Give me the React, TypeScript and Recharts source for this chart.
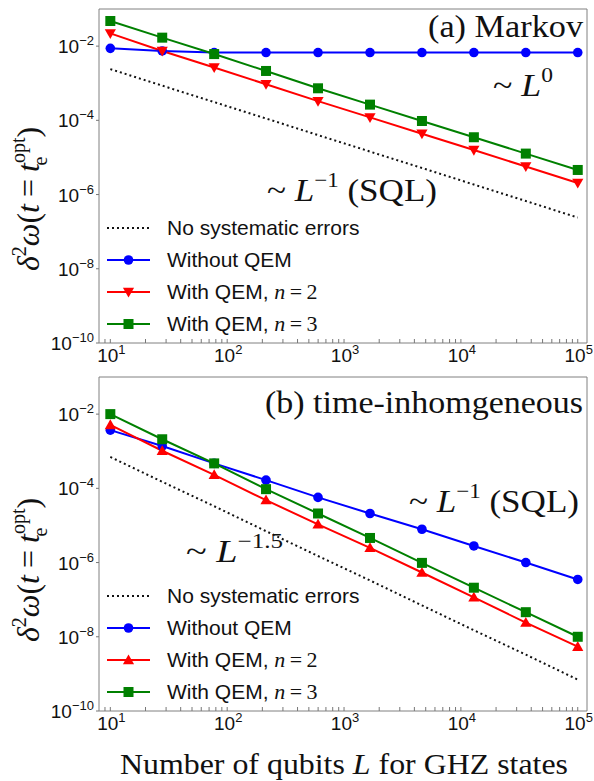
import React from 'react';
import { LineChart, Line, XAxis, YAxis, ReferenceArea } from 'recharts';

// number of qubits L (x positions of the markers)
const qubits = [10, 27.8, 77.4, 215, 599, 1668, 4642, 12915, 35938, 100000];

// (a) Markov
const markovIdeal = [2.4e-3, 8.6e-4, 3.1e-4, 1.12e-4, 4.0e-5, 1.44e-5, 5.2e-6, 1.86e-6, 6.7e-7, 2.4e-7];
const markovNoQem = [8.7e-3, 7.4e-3, 6.7e-3, 6.7e-3, 6.7e-3, 6.7e-3, 6.7e-3, 6.7e-3, 6.7e-3, 6.7e-3];
const markovQem2 = [2.2e-2, 7.4e-3, 2.65e-3, 9.4e-4, 3.3e-4, 1.2e-4, 4.35e-5, 1.58e-5, 5.7e-6, 2.05e-6];
const markovQem3 = [4.75e-2, 1.69e-2, 6.1e-3, 2.14e-3, 7.3e-4, 2.65e-4, 9.6e-5, 3.5e-5, 1.27e-5, 4.6e-6];

// (b) time-inhomogeneous
const inhomIdeal = [7.0e-4, 1.5e-4, 3.3e-5, 7.0e-6, 1.5e-6, 3.3e-7, 7.0e-8, 1.5e-8, 3.3e-9, 7.0e-10];
const inhomNoQem = [3.7e-3, 1.38e-3, 4.7e-4, 1.66e-4, 5.7e-5, 2.1e-5, 7.9e-6, 2.8e-6, 1.0e-6, 3.5e-7];
const inhomQem2 = [5.1e-3, 1.03e-3, 2.3e-4, 4.8e-5, 1.07e-5, 2.5e-6, 5.4e-7, 1.15e-7, 2.4e-8, 5.4e-9];
const inhomQem3 = [1.0e-2, 2.1e-3, 4.7e-4, 9.5e-5, 2.1e-5, 4.6e-6, 9.8e-7, 2.1e-7, 4.6e-8, 1.0e-8];

const xMajorTicks = [10, 100, 1000, 10000, 100000];
const xMinorTicks = [10, 100, 1000, 10000].flatMap((d) => [2, 3, 4, 5, 6, 7, 8, 9].map((m) => m * d)).concat([9]);
const yMajorTicks = [1e-10, 1e-8, 1e-6, 1e-4, 1e-2];

const BLUE = '#0000ff';
const RED = '#ff0000';
const GREEN = '#008000';
const SANS = "'Liberation Sans', Arial, sans-serif";
const SERIF = "'Liberation Serif', 'Times New Roman', serif";

const buildRows = (ideal: number[], noQem: number[], qem2: number[], qem3: number[]) =>
  qubits.map((L, i) => ({ L, ideal: ideal[i], noQem: noQem[i], qem2: qem2[i], qem3: qem3[i] }));

const markovData = buildRows(markovIdeal, markovNoQem, markovQem2, markovQem3);
const inhomData = buildRows(inhomIdeal, inhomNoQem, inhomQem2, inhomQem3);

const exp10 = (v: number) => Math.round(Math.log10(v));

const XTick = ({ x, y, payload }: any) => {
  const v = payload.value;
  if (!xMajorTicks.includes(v)) return null;
  return (
    <text x={x + 1} y={y + 21} textAnchor="middle" fontFamily={SANS} fontSize={19} fill="#111">
      <tspan>10</tspan>
      <tspan fontSize={13} dy={-8}>{exp10(v)}</tspan>
    </text>
  );
};

const YTick = ({ x, y, payload }: any) => (
  <text x={x} y={y + 7} textAnchor="end" fontFamily={SANS} fontSize={19} fill="#111">
    <tspan>10</tspan>
    <tspan fontSize={13} dy={-8}>{'\u2212' + Math.abs(exp10(payload.value))}</tspan>
  </text>
);

const circle = (c: string) => (p: any) =>
  p.cx == null ? <g key={p.key} /> : <circle key={p.key} cx={p.cx} cy={p.cy} r={4.8} fill={c} />;
const square = (c: string) => (p: any) =>
  p.cx == null ? <g key={p.key} /> : <rect key={p.key} x={p.cx - 5} y={p.cy - 5} width={10} height={10} fill={c} />;
const triangle = (c: string, up: boolean) => (p: any) => {
  if (p.cx == null) return <g key={p.key} />;
  const s = 5.6;
  const pts = up
    ? `${p.cx},${p.cy - s} ${p.cx + s},${p.cy + s * 0.75} ${p.cx - s},${p.cy + s * 0.75}`
    : `${p.cx},${p.cy + s} ${p.cx + s},${p.cy - s * 0.75} ${p.cx - s},${p.cy - s * 0.75}`;
  return <polygon key={p.key} points={pts} fill={c} />;
};

const Panel = ({ data, up }: { data: any[]; up: boolean }) => (
  <LineChart width={594} height={375} data={data} margin={{ top: 9, right: 7, bottom: 0, left: 0 }}>
    <XAxis
      dataKey="L"
      type="number"
      scale="log"
      domain={[8, 120000]}
      allowDataOverflow
      ticks={[...xMajorTicks, ...xMinorTicks]}
      interval={0}
      tick={<XTick />}
      tickSize={-4}
      tickLine={{ stroke: '#777' }}
      axisLine={false}
      height={32}
    />
    <XAxis
      xAxisId="top"
      dataKey="L"
      type="number"
      scale="log"
      domain={[8, 120000]}
      allowDataOverflow
      orientation="top"
      mirror
      height={0}
      ticks={[...xMajorTicks, ...xMinorTicks]}
      interval={0}
      tick={false}
      tickSize={3}
      tickLine={{ stroke: '#777' }}
      axisLine={false}
    />
    <YAxis
      type="number"
      scale="log"
      domain={[1e-10, 1e-1]}
      allowDataOverflow
      ticks={yMajorTicks}
      interval={0}
      tick={<YTick />}
      tickSize={3}
      tickMargin={2}
      tickLine={{ stroke: '#777' }}
      axisLine={false}
      width={99}
    />
    <ReferenceArea x1={8} x2={120000} y1={1e-10} y2={1e-1} fill="none" stroke="#808080" strokeWidth={1} />
    <Line dataKey="ideal" stroke="#111" strokeWidth={2} strokeDasharray="2 3" dot={false} isAnimationActive={false} />
    <Line dataKey="noQem" stroke={BLUE} strokeWidth={2} dot={circle(BLUE)} isAnimationActive={false} />
    <Line dataKey="qem2" stroke={RED} strokeWidth={2} dot={triangle(RED, up)} isAnimationActive={false} />
    <Line dataKey="qem3" stroke={GREEN} strokeWidth={2} dot={square(GREEN)} isAnimationActive={false} />
  </LineChart>
);

const legendItems = [
  { label: 'No systematic errors', color: '#111', marker: 'none', n: '' },
  { label: 'Without QEM', color: BLUE, marker: 'circle', n: '' },
  { label: 'With QEM, ', color: RED, marker: 'tri', n: '2' },
  { label: 'With QEM, ', color: GREEN, marker: 'square', n: '3' },
];

const PanelLegend = ({ top, up }: { top: number; up: boolean }) => (
  <div style={{ position: 'absolute', left: 105, top, fontFamily: SANS, fontSize: 21, color: '#111' }}>
    {legendItems.map((it, i) => (
      <div key={i} style={{ display: 'flex', alignItems: 'center', height: 32 }}>
        <svg width={62} height={32}>
          <line
            x1={2}
            x2={45}
            y1={16}
            y2={16}
            stroke={it.color}
            strokeWidth={2}
            strokeDasharray={it.marker === 'none' ? '2 3' : undefined}
          />
          {it.marker === 'circle' && <circle cx={23.5} cy={16} r={4.8} fill={it.color} />}
          {it.marker === 'square' && <rect x={18.5} y={11} width={10} height={10} fill={it.color} />}
          {it.marker === 'tri' &&
            (up ? (
              <polygon points="23.5,10.4 29.1,20.2 17.9,20.2" fill={it.color} />
            ) : (
              <polygon points="23.5,21.6 29.1,11.8 17.9,11.8" fill={it.color} />
            ))}
        </svg>
        <span style={{ whiteSpace: 'nowrap' }}>
          {it.label}
          {it.n && (
            <span style={{ fontFamily: SERIF, fontSize: 22 }}>
              <i>n</i>
              {'\u2009=\u2009' + it.n}
            </span>
          )}
        </span>
      </div>
    ))}
  </div>
);

const Note = ({ x, y, len, size = 32, children }: any) => (
  <text x={x} y={y} textLength={len} lengthAdjust="spacingAndGlyphs" fontFamily={SERIF} fontSize={size} fill="#111">
    {children}
  </text>
);

const YTitle = ({ cx, cy }: { cx: number; cy: number }) => (
  <g transform={`translate(${cx},${cy}) rotate(-90)`}>
    <text x={-80} y={0} fontFamily={SERIF} fontSize={32} fill="#111">
      <tspan fontStyle="italic">δ</tspan>
      <tspan fontSize={20} dy={-13}>2</tspan>
      <tspan fontStyle="italic" dy={13}>ω</tspan>
      <tspan>(</tspan>
      <tspan fontStyle="italic">t</tspan>
      <tspan dx={7}>=</tspan>
      <tspan fontStyle="italic" dx={7}>t</tspan>
      <tspan fontSize={20} dy={-14}>opt</tspan>
      <tspan fontSize={20} dx={-28} dy={22}>e</tspan>
      <tspan dx={19} dy={-8}>)</tspan>
    </text>
  </g>
);

const Tilde = () => <tspan fontFamily={SERIF}>~ </tspan>;

export default function App() {
  return (
    <div style={{ position: 'relative', width: 594, height: 781, background: '#fff', overflow: 'hidden' }}>
      <style>{'body{margin:0}'}</style>
      <div style={{ position: 'absolute', left: 0, top: 0 }}>
        <Panel data={markovData} up={false} />
      </div>
      <div style={{ position: 'absolute', left: 0, top: 368 }}>
        <Panel data={inhomData} up={true} />
      </div>
      <PanelLegend top={212} up={false} />
      <PanelLegend top={580} up={true} />
      <svg width={594} height={781} style={{ position: 'absolute', left: 0, top: 0, pointerEvents: 'none' }}>
        <Note x={428} y={37} len={155}>(a) Markov</Note>
        <Note x={493} y={96} len={60}>
          <Tilde />
          <tspan fontStyle="italic">L</tspan>
          <tspan fontSize={21} dy={-14}>0</tspan>
        </Note>
        <Note x={267} y={201} len={170}>
          <Tilde />
          <tspan fontStyle="italic">L</tspan>
          <tspan fontSize={21} dy={-14}>−1</tspan>
          <tspan dy={14}> (SQL)</tspan>
        </Note>
        <Note x={265} y={413} len={318}>(b) time-inhomgeneous</Note>
        <Note x={409} y={512} len={170}>
          <Tilde />
          <tspan fontStyle="italic">L</tspan>
          <tspan fontSize={21} dy={-14}>−1</tspan>
          <tspan dy={14}> (SQL)</tspan>
        </Note>
        <Note x={186} y={562} len={97}>
          <Tilde />
          <tspan fontStyle="italic">L</tspan>
          <tspan fontSize={21} dy={-14}>−1.5</tspan>
        </Note>
        <Note x={120} y={774} len={448} size={30}>
          <tspan>Number of qubits </tspan>
          <tspan fontStyle="italic">L</tspan>
          <tspan> for GHZ states</tspan>
        </Note>
        <YTitle cx={39} cy={191} />
        <YTitle cx={39} cy={562} />
      </svg>
    </div>
  );
}
